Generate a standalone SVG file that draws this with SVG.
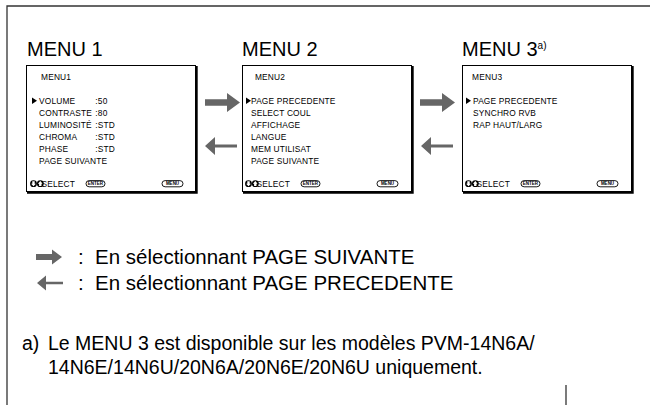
<svg xmlns="http://www.w3.org/2000/svg" width="650" height="405" viewBox="0 0 650 405">
  <defs>
    <style>
      .frame { fill: none; stroke: #333; stroke-width: 1.3; }
      .screen { fill: #fff; stroke: #000; stroke-width: 1; }
      .shadow { fill: none; stroke: #000; stroke-width: 2.2; }
      .title { font-family: "Liberation Sans", Arial, sans-serif; font-size: 20px; fill: #000; }
      .sup { font-family: "Liberation Sans", Arial, sans-serif; font-size: 10px; fill: #000; }
      .osd { font-family: "Liberation Sans", Arial, sans-serif; font-size: 9.5px; letter-spacing: 0.2px; fill: #000; }
      .btn { fill: #fff; stroke: #000; stroke-width: 0.9; }
      .btntxt { font-family: "Liberation Sans", Arial, sans-serif; font-size: 4.5px; font-weight: bold; fill: #000; text-anchor: middle; }
      .legend { font-family: "Liberation Sans", Arial, sans-serif; font-size: 20.5px; fill: #000; }
      .body { font-family: "Liberation Sans", Arial, sans-serif; font-size: 19.5px; fill: #000; }
      .arrow { fill: #666; }
    </style>
    <!-- wide "next page" arrow, tip at the origin -->
    <path id="fwd" d="M-35,-3.3 L-13,-3.3 L-13,-9.5 L0,0 L-13,9.5 L-13,3.3 L-35,3.3 Z"/>
    <!-- thin "previous page" arrow, tip at the origin -->
    <path id="back" d="M0,0 L10,-9 L10,-1.4 L32,-1.4 L32,1.4 L10,1.4 L10,9 Z"/>
    <!-- shorter versions for the legend -->
    <path id="fwdS" d="M-26,-3 L-10,-3 L-10,-7.5 L0,0 L-10,7.5 L-10,3 L-26,3 Z"/>
    <path id="backS" d="M0,0 L9,-7.5 L9,-1.3 L26,-1.3 L26,1.3 L9,1.3 L9,7.5 Z"/>
    <!-- up/down key pair -->
    <g id="keys">
      <circle cx="0" cy="0" r="3.4" fill="#000"/>
      <circle cx="6.8" cy="0" r="3.4" fill="#000"/>
      <path d="M-1.2,-2.4 L1.2,-2.4 L1.2,0 L2.4,0 L0,2.6 L-2.4,0 L-1.2,0 Z" fill="#fff"/>
      <path d="M5.6,2.4 L8,2.4 L8,0 L9.2,0 L6.8,-2.6 L4.4,0 L5.6,0 Z" fill="#fff"/>
    </g>
    <!-- SELECT / ENTER / MENU footer line of an on-screen menu -->
    <g id="footer">
      <use href="#keys" x="3.5" y="-3.3"/>
      <text class="osd" x="11.5" y="0" transform="translate(11.5 0) scale(0.88 1) translate(-11.5 0)">SELECT</text>
      <rect class="btn" x="56" y="-6.4" width="19" height="6.2" rx="3.1"/>
      <text class="btntxt" x="65.5" y="-1.6">ENTER</text>
      <rect class="btn" x="132" y="-6.4" width="21" height="6.2" rx="3.1"/>
      <text class="btntxt" x="142.5" y="-1.6">MENU</text>
    </g>
    <path id="cursor" d="M0,-6.5 L5,-3.25 L0,0 Z" fill="#000"/>
  </defs>

  <!-- outer frame (open at the right and bottom) -->
  <path class="frame" d="M650,6 L7,6 L7,405"/>
  <line class="frame" x1="566" y1="385" x2="566" y2="405"/>

  <!-- headings -->
  <text class="title" x="27" y="56">MENU 1</text>
  <text class="title" x="242" y="56">MENU 2</text>
  <text class="title" x="462" y="56">MENU 3<tspan class="sup" dy="-7.5">a)</tspan></text>

  <!-- MENU 1 screen -->
  <g id="menu1">
    <rect class="screen" x="26.5" y="65.5" width="169" height="126"/>
    <path class="shadow" d="M196.6,66 L196.6,192.6 L27,192.6"/>
    <use href="#cursor" x="32" y="104"/>
    <g transform="translate(39 0) scale(0.88 1)">
      <text class="osd" x="2.3" y="80">MENU1</text>
      <text class="osd" x="0" y="104">VOLUME</text>
      <text class="osd" x="64" y="104">:50</text>
      <text class="osd" x="0" y="116">CONTRASTE</text>
      <text class="osd" x="64" y="116">:80</text>
      <text class="osd" x="0" y="128">LUMINOSITÉ</text>
      <text class="osd" x="64" y="128">:STD</text>
      <text class="osd" x="0" y="140">CHROMA</text>
      <text class="osd" x="64" y="140">:STD</text>
      <text class="osd" x="0" y="152">PHASE</text>
      <text class="osd" x="64" y="152">:STD</text>
      <text class="osd" x="0" y="164">PAGE SUIVANTE</text>
    </g>
    <use href="#footer" x="30" y="187"/>
  </g>

  <!-- MENU 2 screen -->
  <g id="menu2">
    <rect class="screen" x="242.5" y="65.5" width="169" height="126"/>
    <path class="shadow" d="M412.6,66 L412.6,192.6 L243,192.6"/>
    <use href="#cursor" x="246" y="104"/>
    <g transform="translate(251 0) scale(0.88 1)">
      <text class="osd" x="4.5" y="80">MENU2</text>
      <text class="osd" x="0" y="104">PAGE PRECEDENTE</text>
      <text class="osd" x="0" y="116">SELECT COUL</text>
      <text class="osd" x="0" y="128">AFFICHAGE</text>
      <text class="osd" x="0" y="140">LANGUE</text>
      <text class="osd" x="0" y="152">MEM UTILISAT</text>
      <text class="osd" x="0" y="164">PAGE SUIVANTE</text>
    </g>
    <use href="#footer" x="245" y="187"/>
  </g>

  <!-- MENU 3 screen -->
  <g id="menu3">
    <rect class="screen" x="462.5" y="65.5" width="169" height="126"/>
    <path class="shadow" d="M632.6,66 L632.6,192.6 L463,192.6"/>
    <use href="#cursor" x="466" y="104"/>
    <g transform="translate(473 0) scale(0.88 1)">
      <text class="osd" x="-1" y="80">MENU3</text>
      <text class="osd" x="0" y="104">PAGE PRECEDENTE</text>
      <text class="osd" x="0" y="116">SYNCHRO RVB</text>
      <text class="osd" x="0" y="128">RAP HAUT/LARG</text>
    </g>
    <use href="#footer" x="465" y="187"/>
  </g>

  <!-- page navigation arrows between the screens -->
  <g id="connectors">
    <use href="#fwd" class="arrow" x="240" y="102.5"/>
    <use href="#back" class="arrow" x="205" y="146"/>
    <use href="#fwd" class="arrow" x="455" y="102.5"/>
    <use href="#back" class="arrow" x="421" y="146"/>
  </g>

  <!-- legend -->
  <g id="legend">
    <use href="#fwdS" class="arrow" x="62" y="257"/>
    <text class="legend" x="78" y="264">:</text>
    <text class="legend" x="95" y="264">En sélectionnant PAGE SUIVANTE</text>
    <use href="#backS" class="arrow" x="37" y="283"/>
    <text class="legend" x="78" y="290">:</text>
    <text class="legend" x="95" y="290">En sélectionnant PAGE PRECEDENTE</text>
  </g>

  <!-- footnote -->
  <g id="note">
    <text class="body" x="22" y="350">a)</text>
    <text class="body" x="48" y="350">Le MENU 3 est disponible sur les modèles PVM-14N6A/</text>
    <text class="body" x="48" y="374">14N6E/14N6U/20N6A/20N6E/20N6U uniquement.</text>
  </g>
</svg>
